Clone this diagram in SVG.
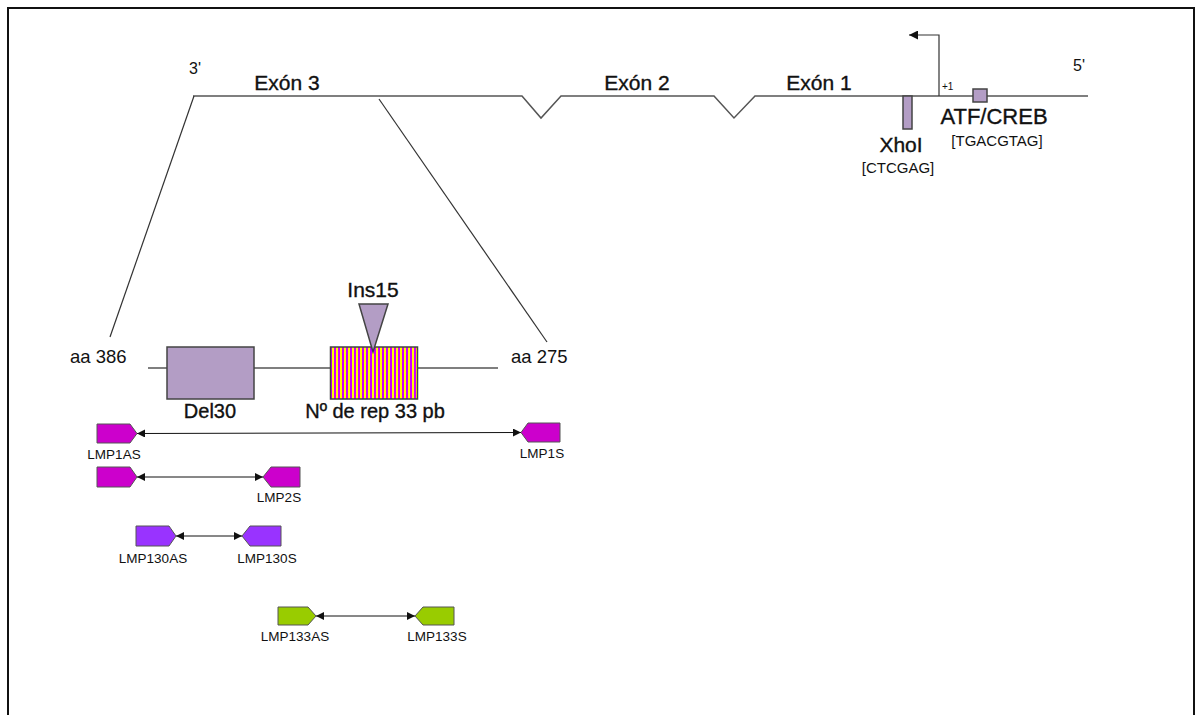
<svg xmlns="http://www.w3.org/2000/svg" width="1202" height="715" viewBox="0 0 1202 715">
  <style>
    .t { font-family: "Liberation Sans", Arial, sans-serif; fill: #111; }
    .h { stroke: #111; stroke-width: 0.35; }
    .gene { fill: none; stroke: #555; stroke-width: 1.5; }
    .thin { fill: none; stroke: #333; stroke-width: 1.2; }
    .box { fill: #b39dc5; stroke: #444; stroke-width: 1.5; }
    .p1 { fill: #cc00cc; stroke: #555; stroke-width: 1; }
    .p130 { fill: #9933ff; stroke: #555; stroke-width: 1; }
    .p133 { fill: #99cc00; stroke: #555; stroke-width: 1; }
    .lbl { font-size: 13.5px; text-anchor: middle; }
    .conn { stroke: #111; stroke-width: 1; fill: none; marker-start: url(#ah); marker-end: url(#ah); }
  </style>
  <defs>
    <marker id="ah" viewBox="0 0 10 10" refX="10" refY="5" markerWidth="8" markerHeight="8" markerUnits="userSpaceOnUse" orient="auto-start-reverse">
      <path d="M0,0 L10,5 L0,10 z" fill="#111"/>
    </marker>
    <marker id="tss" viewBox="0 0 10 10" refX="10" refY="5" markerWidth="10" markerHeight="9" markerUnits="userSpaceOnUse" orient="auto">
      <path d="M0,0 L10,5 L0,10 z" fill="#111"/>
    </marker>
    <pattern id="stripes" x="0" y="0" width="4" height="10" patternUnits="userSpaceOnUse">
      <rect x="0" y="0" width="2" height="10" fill="#ffff00"/>
      <rect x="2" y="0" width="2" height="10" fill="#cc00ff"/>
    </pattern>
  </defs>

  <rect width="1202" height="715" fill="#ffffff"/>
  <!-- frame -->
  <path d="M8,715 L8,8 L1194,8 L1194,715" fill="none" stroke="#111" stroke-width="2"/>

  <!-- gene backbone with exons and introns -->
  <g id="gene">
    <path class="gene" d="M193,96 L522,96 L541,118 L561,96 L714,96 L734,118 L755,96 L1088,96"/>
    <text class="t" x="189" y="74" font-size="16">3'</text>
    <text class="t" x="1073" y="71" font-size="16">5'</text>
    <text class="t h" x="287" y="90" font-size="21" text-anchor="middle">Exón 3</text>
    <text class="t h" x="637" y="90" font-size="21" text-anchor="middle">Exón 2</text>
    <text class="t h" x="819" y="90" font-size="21" text-anchor="middle">Exón 1</text>
  </g>

  <!-- transcription start -->
  <g id="tss">
    <path class="thin" d="M939,96 L939,35 L909,35" marker-end="url(#tss)"/>
    <text class="t" x="942" y="90" font-size="10">+1</text>
  </g>

  <g id="xhoi">
    <rect class="box" x="903" y="96" width="9" height="33"/>
    <text class="t h" x="901" y="152" font-size="21" text-anchor="middle">XhoI</text>
    <text class="t" x="898" y="173" font-size="15" text-anchor="middle" fill="#333">[CTCGAG]</text>
  </g>

  <g id="atf-creb">
    <rect class="box" x="973" y="89" width="14" height="13"/>
    <text class="t h" x="994" y="124" font-size="22" text-anchor="middle">ATF/CREB</text>
    <text class="t" x="997" y="146" font-size="15" text-anchor="middle" fill="#333">[TGACGTAG]</text>
  </g>

  <!-- zoom lines from exon 3 -->
  <g id="zoom-lines">
    <line class="thin" x1="194" y1="96" x2="110" y2="337"/>
    <line class="thin" x1="379" y1="99" x2="547" y2="342"/>
  </g>

  <!-- exon 3 detail -->
  <g id="exon3-detail">
    <line class="gene" x1="148" y1="368" x2="498" y2="368"/>
    <text class="t" x="70" y="363" font-size="18.5" fill="#333">aa 386</text>
    <text class="t" x="511" y="363" font-size="18.5" fill="#333">aa 275</text>
  </g>

  <g id="del30">
    <rect class="box" x="167" y="347" width="87" height="52"/>
    <text class="t h" x="210" y="418" font-size="20" text-anchor="middle">Del30</text>
  </g>

  <g id="rep33">
    <rect x="330.5" y="347" width="87" height="52" fill="url(#stripes)" stroke="#444" stroke-width="1.5"/>
    <text class="t h" x="375" y="418" font-size="20" text-anchor="middle">Nº de rep 33 pb</text>
  </g>

  <g id="ins15">
    <polygon class="box" points="359,304 388,304 373,352"/>
    <text class="t h" x="373" y="297" font-size="21" text-anchor="middle">Ins15</text>
  </g>

  <!-- primers -->
  <g id="LMP1AS">
    <polygon class="p1" points="97,424 130,424 137,433.5 130,443 97,443"/>
    <text class="t lbl" x="114" y="459">LMP1AS</text>
  </g>
  <g id="LMP1S">
    <polygon class="p1" points="560,423 528,423 521,432.5 528,442 560,442"/>
    <text class="t lbl" x="542" y="458">LMP1S</text>
  </g>
  <g id="LMP2AS">
    <polygon class="p1" points="97,467 130,467 137,477 130,487 97,487"/>
  </g>
  <g id="LMP2S">
    <polygon class="p1" points="300,467 271,467 263,477 271,487 300,487"/>
    <text class="t lbl" x="279" y="502">LMP2S</text>
  </g>
  <g id="LMP130AS">
    <polygon class="p130" points="136,526 169,526 176,536 169,546 136,546"/>
    <text class="t lbl" x="153" y="563">LMP130AS</text>
  </g>
  <g id="LMP130S">
    <polygon class="p130" points="281,526 250,526 242,536 250,546 281,546"/>
    <text class="t lbl" x="267" y="563">LMP130S</text>
  </g>
  <g id="LMP133AS">
    <polygon class="p133" points="278,607 308,607 316,616 308,625 278,625"/>
    <text class="t lbl" x="295" y="641">LMP133AS</text>
  </g>
  <g id="LMP133S">
    <polygon class="p133" points="454,607 423,607 415,616 423,625 454,625"/>
    <text class="t lbl" x="437" y="641">LMP133S</text>
  </g>

  <!-- amplicons -->
  <g id="connectors">
    <line class="conn" x1="137" y1="433.5" x2="521" y2="432.5"/>
    <line class="conn" x1="137" y1="477" x2="263" y2="477"/>
    <line class="conn" x1="176" y1="536" x2="242" y2="536"/>
    <line class="conn" x1="316" y1="616" x2="415" y2="616"/>
  </g>
</svg>
